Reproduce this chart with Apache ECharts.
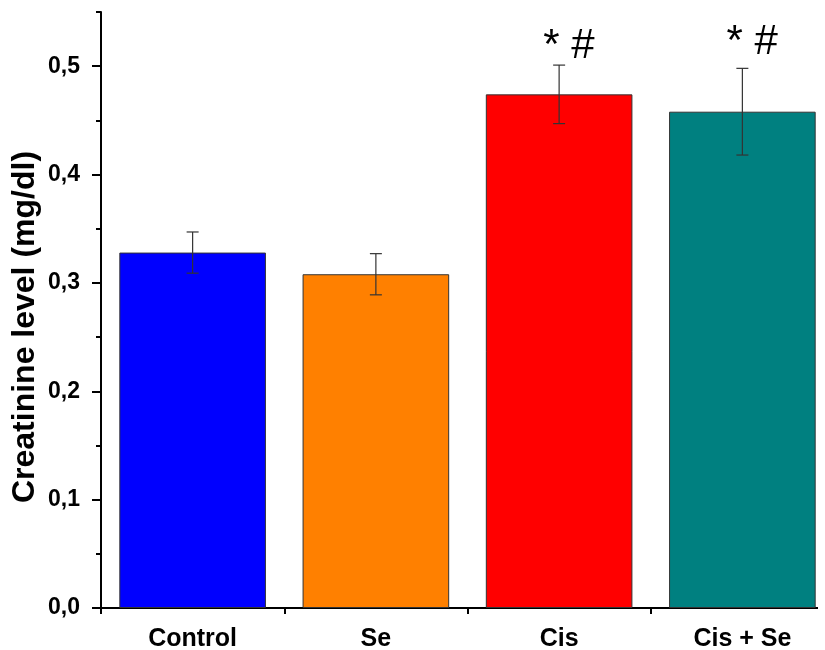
<!DOCTYPE html>
<html><head><meta charset="utf-8">
<script src="https://cdn.jsdelivr.net/npm/echarts@6/dist/echarts.min.js"></script>
<style>html,body{margin:0;padding:0;background:#fff}#c{width:825px;height:650px}</style>
</head><body><div id="c"></div>
<script>
const categories = ['Control', 'Se', 'Cis', 'Cis + Se'];
const means = [0.328, 0.308, 0.474, 0.458];
const errors = [0.019, 0.019, 0.027, 0.040];
const barColors = ['#0000FF', '#FF8000', '#FF0000', '#008080'];
const annotations = ['', '', '* #', '* #'];
const annotationY = [null, null, 0.518, 0.522];
const yTickValues = [0, 0.1, 0.2, 0.3, 0.4, 0.5];
const yTitle = 'Creatinine level (mg/dl)';

const FONT = '"Liberation Sans", Arial, sans-serif';
const chart = echarts.init(document.getElementById('c'), null, {renderer: 'canvas'});

const annIdx = annotations.map((a, i) => a ? i : -1).filter(i => i >= 0);

const option = {
  animation: false,
  backgroundColor: '#fff',
  grid: {left: 101, top: 12, width: 733, height: 596, outerBoundsMode: 'none', containLabel: false},
  xAxis: [{
    type: 'category', data: categories, position: 'bottom',
    axisLine: {lineStyle: {color: '#000', width: 2}},
    axisTick: {alignWithLabel: true, length: 10, lineStyle: {color: '#000', width: 2}},
    axisLabel: {fontSize: 25, fontWeight: 'bold', color: '#000', margin: 19, fontFamily: FONT},
    splitLine: {show: false}
  }, {
    type: 'category', data: categories, position: 'bottom',
    axisLine: {show: false},
    axisTick: {show: true, length: 6, lineStyle: {color: '#000', width: 2}},
    axisLabel: {show: false},
    splitLine: {show: false}
  }],
  yAxis: [{
    type: 'value', min: 0, max: 0.55, interval: 0.1, position: 'left',
    axisLine: {show: true, lineStyle: {color: '#000', width: 2}},
    axisTick: {show: true, length: 9, lineStyle: {color: '#000', width: 2}},
    axisLabel: {
      showMaxLabel: false,
      fontSize: 23, fontWeight: 'bold', color: '#000', margin: 21, fontFamily: FONT,
      formatter: v => yTickValues.some(t => Math.abs(t - v) < 1e-9) ? v.toFixed(1).replace('.', ',') : ''
    },
    splitLine: {show: false}
  }, {
    type: 'value', min: 0, max: 0.55, interval: 0.05, position: 'left',
    axisLine: {show: false},
    axisTick: {show: true, length: 5, lineStyle: {color: '#000', width: 2}},
    axisLabel: {show: false},
    splitLine: {show: false}
  }],
  series: [{
    type: 'bar', xAxisIndex: 0, yAxisIndex: 0, barWidth: '80%',
    data: means.map((v, i) => ({value: v, itemStyle: {color: barColors[i], borderColor: '#333', borderWidth: 1}})),
    z: 2
  }, {
    type: 'custom', xAxisIndex: 0, yAxisIndex: 0, z: 5,
    data: means.map((m, i) => [i, m + errors[i], m - errors[i]]),
    renderItem: (params, api) => {
      const pH = api.coord([api.value(0), api.value(1)]);
      const pL = api.coord([api.value(0), api.value(2)]);
      const w = 6;
      const st = {stroke: '#333', lineWidth: 1.2};
      return {type: 'group', children: [
        {type: 'line', shape: {x1: pH[0], y1: pH[1], x2: pL[0], y2: pL[1]}, style: st},
        {type: 'line', shape: {x1: pH[0] - w, y1: pH[1], x2: pH[0] + w, y2: pH[1]}, style: st},
        {type: 'line', shape: {x1: pL[0] - w, y1: pL[1], x2: pL[0] + w, y2: pL[1]}, style: st}
      ]};
    }
  }, {
    type: 'custom', xAxisIndex: 0, yAxisIndex: 0, z: 6,
    data: annIdx.map(i => [i, annotationY[i]]),
    renderItem: (params, api) => {
      const p = api.coord([api.value(0), api.value(1)]);
      const i = annIdx[params.dataIndex];
      return {type: 'text', x: p[0] - 16, y: p[1], style: {
        text: annotations[i], fill: '#000', font: '42px ' + FONT, align: 'left', verticalAlign: 'middle'
      }};
    }
  }],
  graphic: [
    {type: 'rect', shape: {x: 818, y: 590, width: 10, height: 30}, style: {fill: '#fff'}, z: 100},
    {type: 'text', x: 25, y: 327, rotation: Math.PI / 2, style: {
      text: yTitle, fill: '#000', font: 'bold 32px ' + FONT, align: 'center', verticalAlign: 'middle'
    }}
  ]
};
chart.setOption(option);
</script></body></html>
